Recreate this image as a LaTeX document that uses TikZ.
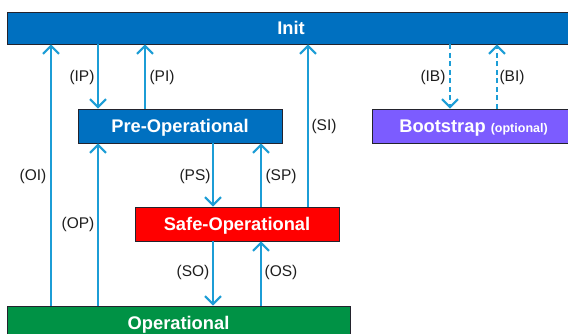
\documentclass[tikz,border=0pt]{standalone}
\usepackage{fontspec}
\setmainfont{Liberation Sans}
\usetikzlibrary{arrows.meta}
\definecolor{initblue}{RGB}{0,112,192}
\definecolor{bootpurple}{RGB}{124,92,255}
\definecolor{safered}{RGB}{255,0,0}
\definecolor{opgreen}{RGB}{0,146,69}
\definecolor{arrowblue}{RGB}{28,157,214}
\definecolor{boxborder}{RGB}{35,35,45}
\definecolor{labelgray}{RGB}{30,30,30}
\tikzset{
  statebox/.style={draw=boxborder, line width=0.9pt, rectangle, inner sep=0pt,
    text=white, font=\fontsize{18.3}{20}\selectfont\bfseries,
    text height=13.1pt, text depth=0pt},
  trans/.style={draw=arrowblue, line width=2pt, -{Straight Barb[length=8pt,width=16pt,line width=2pt]}},
  dtrans/.style={trans, dash pattern=on 5pt off 3.5pt},
  lbl/.style={text=labelgray, font=\fontsize{15.5}{18}\selectfont, inner sep=0pt}
}
\begin{document}
\begin{tikzpicture}[x=1pt,y=-1pt]
\clip (0,0) rectangle (568,334);
\fill[white] (0,0) rectangle (568,334);
% states
\node[statebox, fill=initblue, minimum width=568pt, minimum height=32pt] (init) at (291,28) {Init};
\node[statebox, fill=initblue, minimum width=204pt, minimum height=34pt] (pre) at (180,126) {Pre-Operational};
\node[statebox, fill=bootpurple, minimum width=203pt, minimum height=34pt] (boot) at (473.5,126) {Bootstrap {\fontsize{12.5}{14}\selectfont(optional)}};
\node[statebox, fill=safered, minimum width=204pt, minimum height=34pt] (safe) at (237,224) {Safe-Operational};
\node[statebox, fill=opgreen, minimum width=343pt, minimum height=34pt] (op) at (178.5,323) {Operational};
% x positions of connectors
\coordinate (xOI) at (51,0);
\coordinate (xIP) at (98,0);
\coordinate (xPI) at (145,0);
\coordinate (xPS) at (213,0);
\coordinate (xSP) at (261,0);
\coordinate (xSI) at (308,0);
\coordinate (xIB) at (450,0);
\coordinate (xBI) at (497,0);
% transitions
\draw[trans] (op.north -| xOI) -- (init.south -| xOI);
\draw[trans] (init.south -| xIP) -- (pre.north -| xIP);
\draw[trans] (pre.north -| xPI) -- (init.south -| xPI);
\draw[trans] (op.north -| xIP) -- (pre.south -| xIP);
\draw[trans] (pre.south -| xPS) -- (safe.north -| xPS);
\draw[trans] (safe.north -| xSP) -- (pre.south -| xSP);
\draw[trans] (safe.north -| xSI) -- (init.south -| xSI);
\draw[trans] (safe.south -| xPS) -- (op.north -| xPS);
\draw[trans] (op.north -| xSP) -- (safe.south -| xSP);
\draw[dtrans] (init.south -| xIB) -- (boot.north -| xIB);
\draw[dtrans] (boot.north -| xBI) -- (init.south -| xBI);
% labels
\node[lbl] (lIP) at (82,77) {(IP)};
\node[lbl] (lPI) at (162,77) {(PI)};
\node[lbl] (lOI) at (33,176) {(OI)};
\node[lbl] (lOP) at (78,224) {(OP)};
\node[lbl] (lPS) at (195,176) {(PS)};
\node[lbl] (lSP) at (281,176) {(SP)};
\node[lbl] (lSI) at (324,126) {(SI)};
\node[lbl] (lSO) at (193,272) {(SO)};
\node[lbl] (lOS) at (281,272) {(OS)};
\node[lbl] (lIB) at (433,77) {(IB)};
\node[lbl] (lBI) at (512,77) {(BI)};
\end{tikzpicture}
\end{document}
